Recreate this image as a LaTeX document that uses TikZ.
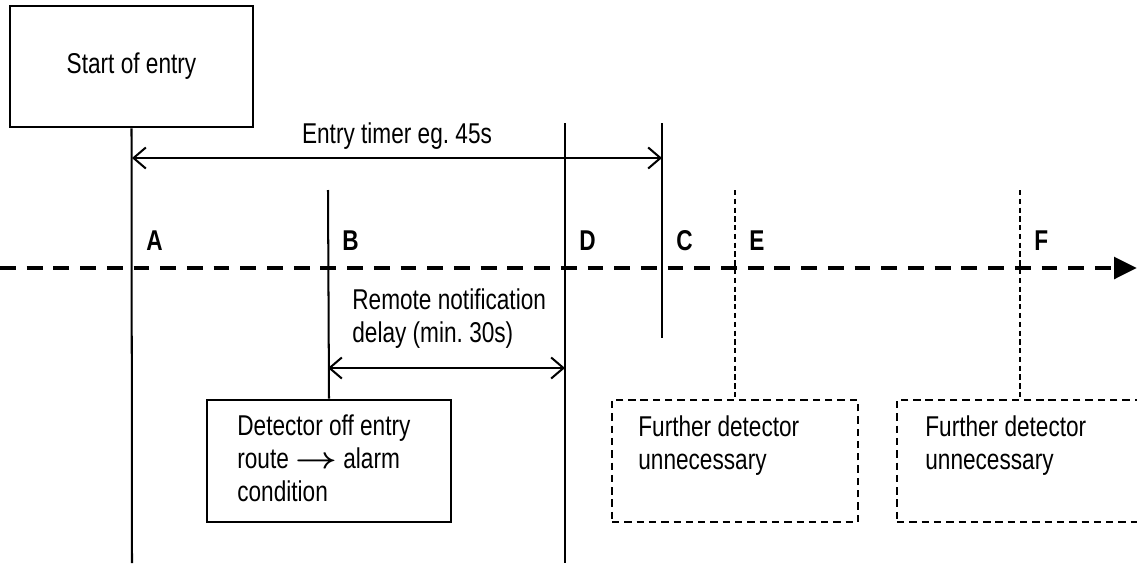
\documentclass[tikz,border=0pt]{standalone}
\usepackage{fontspec}
\setmainfont[FakeStretch=0.79]{Liberation Sans}
\usetikzlibrary{arrows.meta}
\tikzset{
  solidbox/.style={draw, line width=1.5pt, inner sep=0pt},
  dashbox/.style={draw, line width=1.5pt, dash pattern=on 4.2pt off 2.8pt, inner sep=0pt},
  tline/.style={line width=1.15pt},
  dline/.style={line width=1.2pt, dash pattern=on 3pt off 2pt},
  span/.style={tline, {Straight Barb[length=7pt,width=12pt]}-{Straight Barb[length=7pt,width=12pt]}},
  axis/.style={line width=2.8pt, dash pattern=on 9pt off 6.2pt, -{Triangle[length=13pt,width=12pt]}},
  lbl/.style={font=\fontsize{16.3}{18.7}\selectfont\bfseries, inner sep=0pt},
  txt/.style={align=left, inner sep=0pt}
}

\begin{document}
\begin{tikzpicture}[x=0.02cm, y=-0.02cm, font=\fontsize{16.3}{18.7}\selectfont]
\useasboundingbox (0,0) rectangle (1137,565);
%boxes
\node[solidbox, minimum width=4.86cm, minimum height=2.42cm] (start) at (131.5,66.5) {Start of entry};
\node[solidbox, minimum width=4.88cm, minimum height=2.44cm] (detbox) at (329,461) {};
\node[dashbox, minimum width=4.92cm, minimum height=2.44cm] (furtherE) at (735,461) {};
\node[dashbox, minimum width=4.92cm, minimum height=2.44cm] (furtherF) at (1020,461) {};

%time axis
\coordinate (axisL) at (0,268);
\coordinate (axisR) at (1137,268);
\draw[axis] (axisL) -- (axisR);

%event lines
\coordinate (Abot) at (132,563);
\coordinate (Btop) at (328,190);
\coordinate (Dtop) at (565,123);
\coordinate (Dbot) at (565,563);
\coordinate (Ctop) at (662,123);
\coordinate (Cbot) at (662,338);
\coordinate (Etop) at (735,190);
\coordinate (Ftop) at (1020,190);
\draw[tline] (start.south) -- (Abot);
\draw[tline] (Btop) -- (detbox.north);
\draw[tline] (Dtop) -- (Dbot);
\draw[tline] (Ctop) -- (Cbot);
\draw[dline] (Etop) -- (furtherE.north);
\draw[dline] (Ftop) -- (furtherF.north);

\foreach \n/\x in {A/132,B/328,D/565,C/662,E/735,F/1020}
  \node[lbl, anchor=base west] (lab\n) at (\x+14,250) {\n};

%timers
\coordinate (timerL) at (132,158);
\coordinate (timerR) at (662,158);
\draw[span] (timerL) -- (timerR);
\node[anchor=base] (timer) at (397,143) {Entry timer eg.\ 45s};
\coordinate (delayL) at (328,368);
\coordinate (delayR) at (565,368);
\draw[span] (delayL) -- (delayR);
\node[txt, anchor=west] (delay) at (352,319) {Remote notification\\delay (min.\ 30s)};

%box texts
\node[txt, anchor=west] (dettext) at (237,458) {Detector off entry\\route \scalebox{1.2}[1]{\boldmath$\rightarrow$} alarm\\condition};
\node[txt, anchor=west] (textE) at (638,446) {Further detector\\unnecessary};
\node[txt, anchor=west] (textF) at (925,446) {Further detector\\unnecessary};
\end{tikzpicture}
\end{document}
